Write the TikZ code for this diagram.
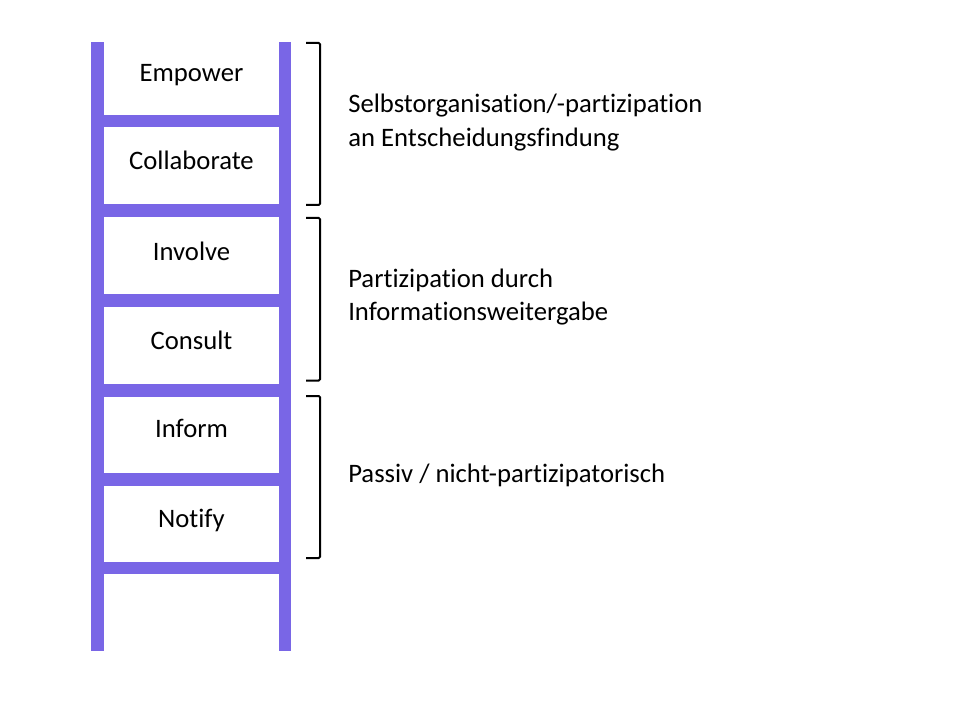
\documentclass[tikz,border=0pt]{standalone}
\usepackage{fontspec}
\setmainfont{Carlito}[Ligatures=NoCommon]
\definecolor{ladder}{RGB}{121,102,230}
\begin{document}
\begin{tikzpicture}[x=0.75pt,y=-0.75pt,
  rail/.style={fill=ladder},
  lbl/.style={font=\fontsize{20}{24}\selectfont, inner sep=0pt, anchor=base},
  side/.style={font=\fontsize{20}{24}\selectfont, inner sep=0pt, anchor=base west},
  brace/.style={draw=black, line width=1.5pt, rounded corners=1pt}]
\useasboundingbox (0,0) rectangle (960,720);
% rails
\fill[rail] (91,42.5) rectangle (104,651);
\fill[rail] (278.5,42.5) rectangle (291,651);
% rungs
\foreach \a/\b in {115/127, 204/217, 294/307, 384/396.5, 473/486, 562/574}
  \fill[rail] (103,\a) rectangle (280,\b);
% labels
\node[lbl] (empower) at (191.5,82) {Empower};
\node[lbl] (collab) at (191.5,170) {Collaborate};
\node[lbl] (involve) at (191.5,261) {Involve};
\node[lbl] (consult) at (191.5,349.5) {Consult};
\node[lbl] (inform) at (191.5,437.5) {Inform};
\node[lbl] (notify) at (191.5,527.5) {Notify};
% brackets
\draw[brace] (306,43) -- (320,43) -- (320,205) -- (306,205);
\draw[brace] (306,218) -- (320,218) -- (320,380.5) -- (306,380.5);
\draw[brace] (306,396) -- (320,396) -- (320,558) -- (306,558);
% side texts
\node[side] (g1a) at (348,112.8) {Selbstorganisation/-partizipation};
\node[side] (g1b) at (348,146.3) {an Entscheidungsfindung};
\node[side] (g2a) at (348,287.8) {Partizipation durch};
\node[side] (g2b) at (348,320.5) {Informationsweitergabe};
\node[side] (g3) at (348,482.2) {Passiv / nicht-partizipatorisch};
\end{tikzpicture}
\end{document}
